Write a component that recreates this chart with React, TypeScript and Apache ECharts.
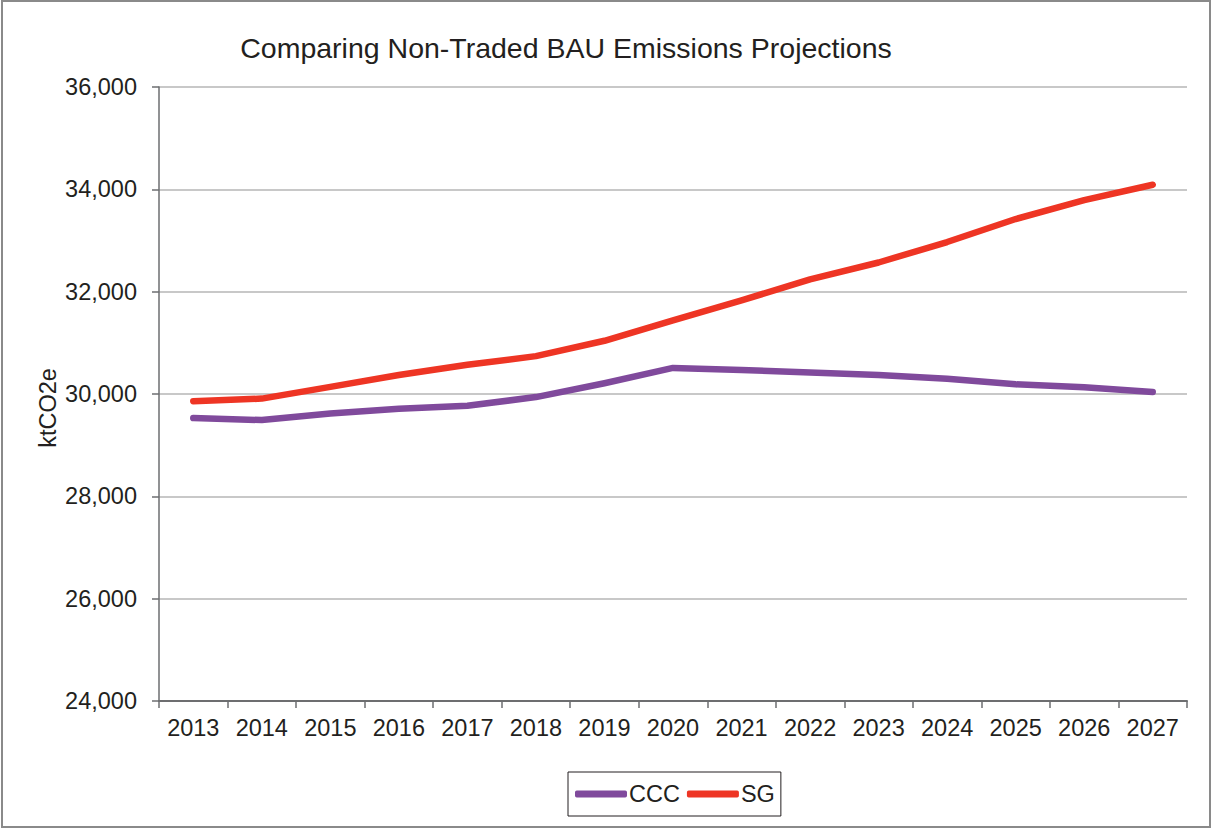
import React, { useEffect, useRef } from "react";
import * as echarts from "echarts";

// Projection years and the two business-as-usual emission series (ktCO2e)
const years = ["2013", "2014", "2015", "2016", "2017", "2018", "2019", "2020", "2021", "2022", "2023", "2024", "2025", "2026", "2027"];
const cccValues = [29530, 29490, 29620, 29710, 29770, 29940, 30210, 30510, 30470, 30420, 30370, 30300, 30190, 30130, 30040];
const sgValues = [29860, 29910, 30140, 30370, 30570, 30740, 31040, 31440, 31830, 32240, 32570, 32970, 33420, 33790, 34090];

const chartTitle = "Comparing Non-Traded BAU Emissions Projections";
const yAxisName = "ktCO2e";

const FONT = "'Liberation Sans', Arial, Helvetica, sans-serif";
const TEXT = "#231f20";
const FS = 23.5;

export default function App() {
  const ref = useRef<HTMLDivElement>(null);

  useEffect(() => {
    document.body.style.margin = "0";
    if (!ref.current) return;
    const chart = echarts.init(ref.current, null, { renderer: "svg" });
    chart.setOption({
      animation: false,
      backgroundColor: "#ffffff",
      textStyle: { fontFamily: FONT },
      title: {
        text: chartTitle,
        left: 561,
        top: 28,
        textAlign: "center",
        textStyle: { fontFamily: FONT, fontSize: 28.5, fontWeight: "normal", color: TEXT },
      },
      legend: {
        data: ["CCC", "SG"],
        left: 568,
        top: 772,
        padding: [10, 6, 10, 7],
        borderColor: TEXT,
        borderWidth: 1,
        itemWidth: 52,
        itemHeight: 7,
        itemGap: 7,
        icon: "roundRect",
        textStyle: { fontFamily: FONT, fontSize: FS, color: TEXT, padding: [0, 0, 0, -3] },
      },
      grid: { left: 159, right: 25, top: 87, bottom: 128, containLabel: false },
      xAxis: {
        type: "category",
        data: years,
        boundaryGap: true,
        axisLine: { lineStyle: { color: "#6d6e70", width: 2 } },
        axisTick: { show: true, length: 7, alignWithLabel: false, lineStyle: { color: "#6d6e70", width: 1.5 } },
        axisLabel: { fontFamily: FONT, fontSize: FS, color: TEXT, margin: 15 },
      },
      yAxis: {
        type: "value",
        min: 24000,
        max: 36000,
        interval: 2000,
        axisLine: { show: true, lineStyle: { color: "#6d6e70", width: 1.5 } },
        axisTick: { show: true, length: 7, lineStyle: { color: "#6d6e70", width: 1.5 } },
        axisLabel: {
          fontFamily: FONT,
          fontSize: FS,
          color: TEXT,
          margin: 22,
          formatter: (v: number) => v.toLocaleString("en-US"),
        },
        splitLine: { lineStyle: { color: "#c8c8c8", width: 2 } },
      },
      series: [
        {
          name: "CCC",
          type: "line",
          data: cccValues,
          symbol: "none",
          color: "#804a9c",
          lineStyle: { width: 6.5, color: "#804a9c", cap: "round", join: "round" },
        },
        {
          name: "SG",
          type: "line",
          data: sgValues,
          symbol: "none",
          color: "#ee3524",
          lineStyle: { width: 6.5, color: "#ee3524", cap: "round", join: "round" },
        },
      ],
      graphic: [
        {
          type: "rect",
          shape: { x: 2, y: 1, width: 1208, height: 826 },
          style: { fill: "none", stroke: "#8a8a8a", lineWidth: 2 },
          silent: true,
        },
        {
          // vertical y-axis title
          type: "text",
          x: 48,
          y: 408,
          rotation: Math.PI / 2,
          style: {
            text: yAxisName,
            fontFamily: FONT,
            fontSize: FS,
            fill: TEXT,
            align: "center",
            verticalAlign: "middle",
          },
          silent: true,
        },
      ],
    });
    return () => chart.dispose();
  }, []);

  return <div ref={ref} style={{ width: 1212, height: 829 }} />;
}
